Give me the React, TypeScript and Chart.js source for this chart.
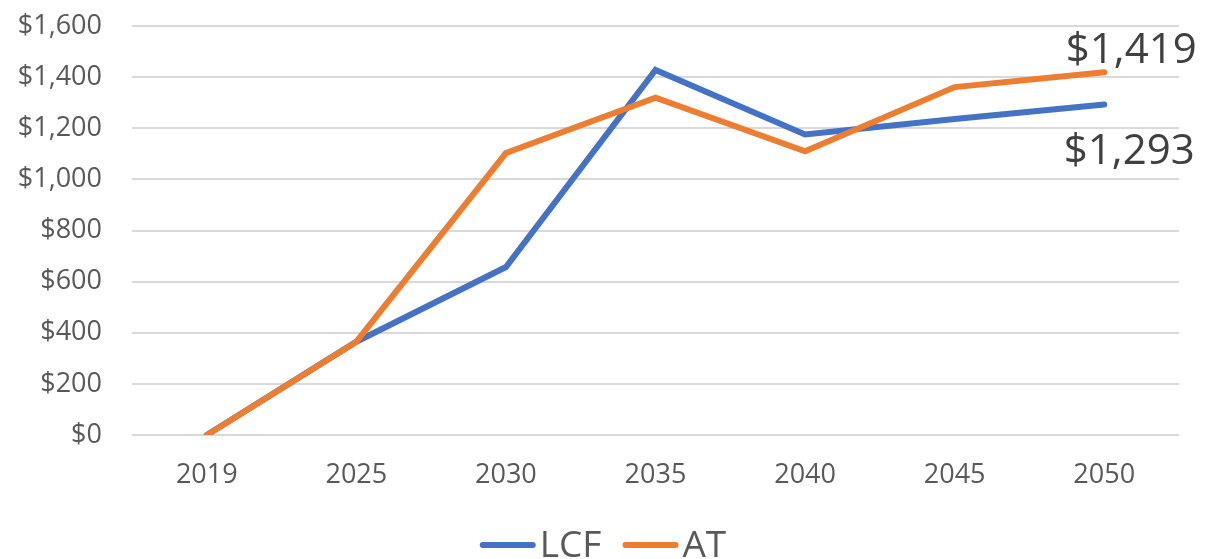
import React, { useEffect, useRef } from "react";
import { Chart, registerables } from "chart.js";

Chart.register(...registerables);

const categories = ["2019", "2025", "2030", "2035", "2040", "2045", "2050"];
const lcfValues = [0, 365, 657, 1428, 1176, 1236, 1293];
const atValues = [0, 365, 1103, 1320, 1110, 1361, 1419];
const yTicks = [0, 200, 400, 600, 800, 1000, 1200, 1400, 1600];

const BLUE = "#4472C4";
const ORANGE = "#ED7D31";
const FONT = "'Open Sans', 'Noto Sans', sans-serif";

const fmt = (v: number) => "$" + v.toLocaleString("en-US");

const endLabels = {
  id: "endLabels",
  afterDatasetsDraw(chart: any) {
    const { ctx } = chart;
    const x = chart.scales.x;
    const y = chart.scales.y;
    const last = categories.length - 1;
    const px = x.getPixelForValue(last);
    ctx.save();
    ctx.font = `42px ${FONT}`;
    ctx.fillStyle = "#404040";
    ctx.textAlign = "center";
    ctx.textBaseline = "alphabetic";
    ctx.fillText(fmt(atValues[last]), px + 27, y.getPixelForValue(atValues[last]) - 9);
    ctx.fillText(fmt(lcfValues[last]), px + 25, y.getPixelForValue(lcfValues[last]) + 60);
    ctx.restore();
  },
};

const customLegend = {
  id: "customLegend",
  afterDraw(chart: any) {
    const { ctx, width } = chart;
    const items = [
      { label: "LCF", color: BLUE },
      { label: "AT", color: ORANGE },
    ];
    const lineW = 56;
    const gap = 4;
    const itemGap = 21;
    ctx.save();
    ctx.font = `37px ${FONT}`;
    const widths = items.map((it) => lineW + gap + ctx.measureText(it.label).width);
    const total = widths.reduce((a, b) => a + b, 0) + itemGap * (items.length - 1);
    let x = width / 2 - total / 2;
    const cy = 545;
    items.forEach((it, i) => {
      ctx.strokeStyle = it.color;
      ctx.lineWidth = 6;
      ctx.lineCap = "round";
      ctx.beginPath();
      ctx.moveTo(x + 3, cy);
      ctx.lineTo(x + lineW - 3, cy);
      ctx.stroke();
      ctx.fillStyle = "#595959";
      ctx.textAlign = "left";
      ctx.textBaseline = "alphabetic";
      ctx.fillText(it.label, x + lineW + gap, 557);
      x += widths[i] + itemGap;
    });
    ctx.restore();
  },
};

export default function App() {
  const ref = useRef<HTMLCanvasElement>(null);
  useEffect(() => {
    document.body.style.margin = "0";
    const chart = new Chart(ref.current!, {
      type: "line",
      data: {
        labels: categories,
        datasets: [
          {
            label: "LCF",
            data: lcfValues,
            borderColor: BLUE,
            backgroundColor: BLUE,
            borderWidth: 6,
            pointRadius: 0,
            borderCapStyle: "round",
            borderJoinStyle: "miter",
            tension: 0,
            order: 1,
          },
          {
            label: "AT",
            data: atValues,
            borderColor: ORANGE,
            backgroundColor: ORANGE,
            borderWidth: 6,
            pointRadius: 0,
            borderCapStyle: "round",
            borderJoinStyle: "miter",
            tension: 0,
            order: 0,
          },
        ],
      },
      options: {
        animation: false,
        responsive: false,
        layout: { padding: { top: 26, right: 27, left: 0, bottom: 0 } },
        plugins: {
          tooltip: { enabled: false },
          legend: { display: false },
        },
        scales: {
          x: {
            offset: true,
            grid: { display: false, drawTicks: false },
            border: { display: false },
            ticks: { color: "#595959", font: { family: FONT, size: 27 }, padding: 24 },
            afterFit: (s: any) => {
              s.height = 124;
              s.paddingLeft = 0;
              s.paddingRight = 0;
            },
          },
          y: {
            min: 0,
            max: 1600,
            afterBuildTicks: (s: any) => {
              s.ticks = yTicks.map((v) => ({ value: v }));
            },
            grid: { color: "#D9D9D9", lineWidth: 2, drawTicks: false },
            border: { display: false },
            ticks: {
              color: "#595959",
              font: { family: FONT, size: 27 },
              padding: 30,
              callback: (v: any) => fmt(Number(v)),
            },
            afterFit: (s: any) => {
              s.width = 132;
              s.paddingTop = 0;
              s.paddingBottom = 0;
            },
          },
        },
      },
      plugins: [endLabels, customLegend],
    });
    return () => chart.destroy();
  }, []);
  return <canvas ref={ref} width={1206} height={559} style={{ display: "block" }} />;
}
